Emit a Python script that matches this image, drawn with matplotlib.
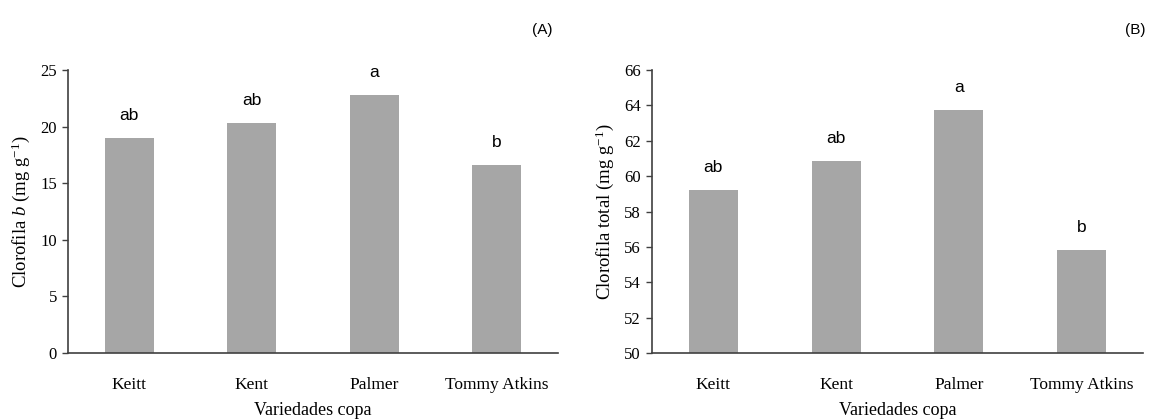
import matplotlib
matplotlib.use("Agg")
import matplotlib.pyplot as plt

categories = ["Keitt", "Kent", "Palmer", "Tommy Atkins"]
clorofila_b = [19.0, 20.3, 22.8, 16.6]
clorofila_total = [59.2, 60.85, 63.75, 55.8]
letters_b = ["ab", "ab", "a", "b"]
letters_total = ["ab", "ab", "a", "b"]
yticks_b = [0, 5, 10, 15, 20, 25]
yticks_total = [50, 52, 54, 56, 58, 60, 62, 64, 66]

serif = "Liberation Serif"
plt.rcParams['font.family'] = [serif, 'DejaVu Serif']
plt.rcParams['mathtext.fontset'] = 'custom'
plt.rcParams['mathtext.rm'] = 'Liberation Serif'
plt.rcParams['mathtext.it'] = 'Liberation Serif:italic'
plt.rcParams['mathtext.bf'] = 'Liberation Serif:bold'

W, H = 1150, 419
fig = plt.figure(figsize=(W / 100, H / 100), dpi=100)

bar_color = "#A6A6A6"
axis_color = "#404040"

def make(ax_rect, values, letters, yticks, ylim, ylabel, panel, panel_x):
    ax = fig.add_axes(ax_rect)
    x = range(len(categories))
    ax.bar(x, values, width=0.4, color=bar_color, edgecolor="none", zorder=2)
    ax.set_xlim(-0.5, len(categories) - 0.5)
    ax.set_ylim(*ylim)
    ax.set_yticks(yticks)
    ax.set_yticklabels([str(t) for t in yticks], fontsize=12)
    ax.set_xticks(list(x))
    ax.set_xticklabels(categories, fontsize=12.5)
    ax.tick_params(axis='x', length=0, pad=17)
    ax.tick_params(axis='y', length=4, width=1, direction='out', color=axis_color, pad=4)
    for s in ("top", "right"):
        ax.spines[s].set_visible(False)
    for s in ("left", "bottom"):
        ax.spines[s].set_color(axis_color)
        ax.spines[s].set_linewidth(1.2)
    ax.set_xlabel("Variedades copa", fontsize=13, labelpad=7)
    ax.set_ylabel(ylabel, fontsize=13.5, labelpad=6)
    for xi, v, l in zip(x, values, letters):
        ax.annotate(l, (xi, v), xytext=(0, 11), textcoords="offset points",
                    ha="center", va="bottom", fontsize=12.5,
                    family=['Liberation Sans', 'DejaVu Sans'])
    fig.text(panel_x, 1 - 30 / H, panel, ha="center", va="center", fontsize=11,
             family=['Liberation Sans', 'DejaVu Sans'])
    return ax

make([68 / W, 1 - 353 / H, 490 / W, 283 / H], clorofila_b, letters_b, yticks_b, (0, 25),
     r"Clorofila $\it{b}$ (mg g$^{-1}$)", "(A)", 542 / W)
make([652 / W, 1 - 353 / H, 491 / W, 283 / H], clorofila_total, letters_total, yticks_total, (50, 66),
     r"Clorofila total (mg g$^{-1}$)", "(B)", 1135 / W)

fig.savefig("out.png", dpi=100)
